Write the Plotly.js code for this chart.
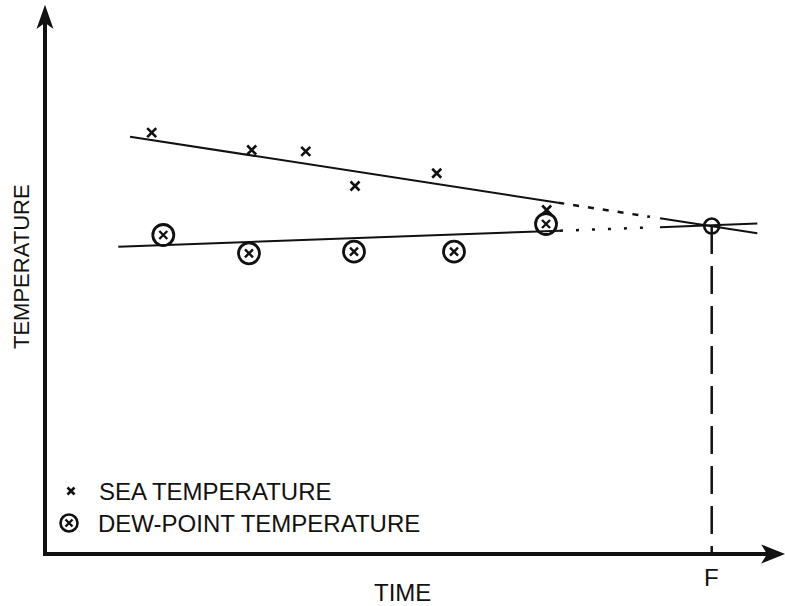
<!DOCTYPE html>
<html>
<head>
<meta charset="utf-8">
<script src="https://cdn.plot.ly/plotly-3.0.1.min.js"></script>
<style>html,body{margin:0;padding:0;background:#fff;}#chart{width:785px;height:606px;}</style>
</head>
<body>
<div id="chart"></div>
<script>
// Observed data (arbitrary time / temperature units)
const seaTime = [1.446, 2.801, 3.533, 4.201, 5.308, 6.798];
const seaTemp = [7.702, 7.386, 7.362, 6.728, 6.960, 6.289];
const dewTime = [1.603, 2.764, 4.187, 5.542, 6.789];
const dewTemp = [5.832, 5.497, 5.527, 5.527, 6.033];

// Trend lines: fitted part, extrapolated part, part around the forecast point
const seaFitTime = [1.152, 6.955];
const seaFitTemp = [7.629, 6.422];
const seaExtTime = [6.955, 8.198];
const seaExtTemp = [6.422, 6.164];
const seaEndTime = [8.333, 9.652];
const seaEndTemp = [6.137, 5.863];

const dewFitTime = [0.993, 6.978];
const dewFitTemp = [5.618, 5.910];
const dewExtTime = [6.978, 8.198];
const dewExtTemp = [5.910, 5.969];
const dewEndTime = [8.333, 9.652];
const dewEndTemp = [5.974, 6.040];

// Forecast point F (fog) where the lines meet
const fogTime = [9.034];
const fogTemp = [5.996];
const fogLabel = 'F';

const seriesNames = ['SEA TEMPERATURE', 'DEW-POINT TEMPERATURE'];
const xTitle = 'TIME';
const yTitle = 'TEMPERATURE';

const ink = '#111111';
const font = {family: '"Liberation Sans", Arial, sans-serif', size: 24, color: ink};

function line(x, y, dash, w) {
  return {x: x, y: y, mode: 'lines', type: 'scatter', showlegend: false, hoverinfo: 'skip',
          line: {color: ink, width: w || 2, dash: dash || 'solid'}};
}

const traces = [
  line(seaFitTime, seaFitTemp),
  line(seaExtTime, seaExtTemp, '6px,9px', 2.5),
  line(seaEndTime, seaEndTemp),
  line(dewFitTime, dewFitTemp),
  line(dewExtTime, dewExtTemp, '3px,13px', 2.5),
  line(dewEndTime, dewEndTemp),
  line([fogTime[0], fogTime[0]], [fogTemp[0], 0], '28px,12px', 2.5),
  {x: seaTime, y: seaTemp, mode: 'markers', type: 'scatter', showlegend: false,
   marker: {symbol: 'x-thin-open', size: 9, color: ink, line: {width: 2.6, color: ink}}},
  {x: dewTime, y: dewTemp, mode: 'markers', type: 'scatter', showlegend: false,
   marker: {symbol: 'circle-open', size: 21, color: ink, line: {width: 2.8, color: ink}}},
  {x: dewTime, y: dewTemp, mode: 'markers', type: 'scatter', showlegend: false,
   marker: {symbol: 'x-thin-open', size: 8, color: ink, line: {width: 2.4, color: ink}}},
  {x: fogTime, y: fogTemp, mode: 'markers', type: 'scatter', showlegend: false,
   marker: {symbol: 'circle-open', size: 15, color: ink, line: {width: 2.6, color: ink}}}
];

// paper-coordinate helpers (plot area 738 x 547 px)
const W = 738, H = 547;
const px = v => v / W, py = v => v / H;

const shapes = [
  // y axis with arrow
  {type: 'line', xref: 'paper', yref: 'paper', x0: 0, y0: -py(2), x1: 0, y1: 1 - py(14), line: {color: ink, width: 4}},
  {type: 'path', xref: 'paper', yref: 'paper',
   path: `M 0 1 L ${-px(7)} ${1 - py(20)} L 0 ${1 - py(15)} L ${px(7)} ${1 - py(20)} Z`,
   fillcolor: ink, line: {color: ink, width: 1.5}},
  // x axis with arrow
  {type: 'line', xref: 'paper', yref: 'paper', x0: -px(2), y0: 0, x1: 1 - px(12), y1: 0, line: {color: ink, width: 4}},
  {type: 'path', xref: 'paper', yref: 'paper',
   path: `M 1 0 L ${1 - px(20)} ${py(8)} L ${1 - px(15)} 0 L ${1 - px(20)} ${-py(8)} Z`,
   fillcolor: ink, line: {color: ink, width: 1.5}},
  // legend symbol: small x
  {type: 'path', xref: 'paper', yref: 'paper',
   path: `M ${px(26 - 3.5)} ${py(63 + 3.5)} L ${px(26 + 3.5)} ${py(63 - 3.5)} M ${px(26 - 3.5)} ${py(63 - 3.5)} L ${px(26 + 3.5)} ${py(63 + 3.5)}`,
   line: {color: ink, width: 2.6}},
  // legend symbol: circled x
  {type: 'circle', xref: 'paper', yref: 'paper', x0: px(24 - 8.5), x1: px(24 + 8.5), y0: py(31 - 8.5), y1: py(31 + 8.5),
   line: {color: ink, width: 2.6}},
  {type: 'path', xref: 'paper', yref: 'paper',
   path: `M ${px(24 - 3.5)} ${py(31 + 3.5)} L ${px(24 + 3.5)} ${py(31 - 3.5)} M ${px(24 - 3.5)} ${py(31 - 3.5)} L ${px(24 + 3.5)} ${py(31 + 3.5)}`,
   line: {color: ink, width: 2.4}}
];

const annotations = [
  {text: xTitle, xref: 'paper', yref: 'paper', x: px(357), y: -py(38), xanchor: 'center', yanchor: 'middle', showarrow: false, font: font},
  {text: yTitle, xref: 'paper', yref: 'paper', x: -px(24), y: py(287), xanchor: 'center', yanchor: 'middle', textangle: -90, showarrow: false, font: Object.assign({}, font, {size: 22})},
  {text: fogLabel, xref: 'x', yref: 'paper', x: fogTime[0], y: -py(23), xanchor: 'center', yanchor: 'middle', showarrow: false, font: font},
  {text: seriesNames[0], xref: 'paper', yref: 'paper', x: px(52), y: py(63), xanchor: 'left', yanchor: 'middle', showarrow: false, font: font},
  {text: seriesNames[1], xref: 'paper', yref: 'paper', x: px(51), y: py(31), xanchor: 'left', yanchor: 'middle', showarrow: false, font: font}
];

const layout = {
  width: 785, height: 606,
  margin: {l: 45, r: 2, t: 7, b: 52, pad: 0},
  paper_bgcolor: '#ffffff', plot_bgcolor: '#ffffff',
  showlegend: false,
  xaxis: {range: [0, 10], showgrid: false, zeroline: false, showticklabels: false, ticks: '', showline: false, fixedrange: true},
  yaxis: {range: [0, 10], showgrid: false, zeroline: false, showticklabels: false, ticks: '', showline: false, fixedrange: true},
  shapes: shapes,
  annotations: annotations,
  font: font
};

Plotly.newPlot('chart', traces, layout, {displayModeBar: false, staticPlot: true});
</script>
</body>
</html>
